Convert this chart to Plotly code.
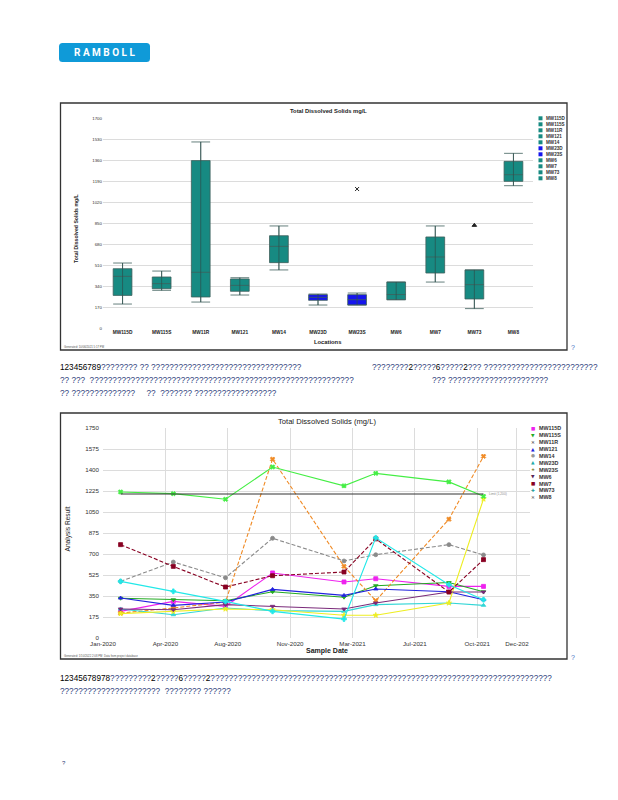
import plotly.graph_objects as go

W, H = 618, 800
def fx(x): return x / W
def fy(y): return 1 - y / H

# ---------------- Box chart data ----------------
locations = ["MW115D", "MW115S", "MW11R", "MW121", "MW14", "MW23D", "MW23S", "MW6", "MW7", "MW73", "MW8"]
box_lower  = [194, 305, 210, 267, 470, 186, 186, 229, 372, 157, 1152]
box_q1     = [264, 318, 251, 297, 529, 224, 186, 229, 445, 235, 1187]
box_median = [418, 359, 451, 345, 661, 248, 229, 271, 575, 351, 1241]
box_q3     = [480, 413, 1355, 397, 747, 270, 270, 372, 737, 470, 1349]
box_upper  = [526, 461, 1506, 407, 826, 275, 283, 372, 826, 470, 1414]
box_colors = ["#178a82", "#178a82", "#178a82", "#178a82", "#178a82", "#1515ee",
              "#1515ee", "#178a82", "#178a82", "#178a82", "#178a82"]
outlier_locs = ["MW23S", "MW73"]
outlier_vals = [1125, 831]
outlier_syms = ["x-thin-open", "triangle-up"]
box_ticks = [0, 170, 340, 510, 680, 850, 1020, 1190, 1360, 1530, 1700]

# ---------------- Line chart data ----------------
sample_dates = ["2020-02-01", "2020-05-04", "2020-08-04", "2020-10-26",
                "2021-03-01", "2021-04-26", "2021-09-02", "2021-11-02"]
mw115d = [222, 305, 264, 542, 467, 494, 430, 430]
mw115s = [331, 319, 311, 385, 340, 436, 462, 385]
mw11r  = [208, 250, 300, 1490, 597, 311, 990, 1514]
mw121  = [333, 272, 300, 405, 355, 408, 385, 319]
mw14   = [472, 633, 502, 831, 642, 694, 778, 692]
mw23d  = [242, 194, 250, 228, 222, 278, 292, 272]
mw23s  = [203, 222, 242, 236, 190, 190, 292, 1158]
mw6    = [242, 236, 278, 264, 242, 292, 383, 383]
mw7    = [778, 597, 425, 519, 550, 826, 383, 653]
mw73   = [472, 389, 305, 222, 158, 835, 444, 319]
mw8    = [1217, 1203, 1156, 1425, 1268, 1372, 1301, 1181]
limit_value = 1200
line_ticks = [0, 175, 350, 525, 700, 875, 1050, 1225, 1400, 1575, 1750]
date_tickvals = ["2020-01-01", "2020-04-20", "2020-08-08", "2020-11-26",
                 "2021-03-16", "2021-07-04", "2021-10-22", "2021-12-31"]
date_ticktext = ["Jan-2020", "Apr-2020", "Aug-2020", "Nov-2020",
                 "Mar-2021", "Jul-2021", "Oct-2021", "Dec-202"]

series = [
    ("MW115D", mw115d, "#ee22ee", "square", "solid"),
    ("MW115S", mw115s, "#22aa22", "triangle-down", "solid"),
    ("MW11R", mw11r, "#f08a24", "x", "dash"),
    ("MW121", mw121, "#2222dd", "triangle-up", "solid"),
    ("MW14", mw14, "#8a8a8a", "circle", "dash"),
    ("MW23D", mw23d, "#33d6d6", "triangle-up", "solid"),
    ("MW23S", mw23s, "#eeee22", "star", "solid"),
    ("MW6", mw6, "#7a2a7a", "triangle-down", "solid"),
    ("MW7", mw7, "#880022", "square", "dash"),
    ("MW73", mw73, "#22e8e8", "cross", "solid"),
    ("MW8", mw8, "#44ee44", "x", "solid"),
]
legend2_syms = ["\u25A0", "\u25BC", "\u2715", "\u25B2", "\u25CF", "\u25B2", "\u2605", "\u25BC", "\u25A0", "\u271A", "\u2715"]
legend2_cols = ["#ee22ee", "#22aa22", "#444444", "#2222dd", "#999999", "#22aaaa", "#8a8a3a", "#552255", "#880022", "#229999", "#555555"]

fig = go.Figure()

# ---- boxes ----
for loc, lo, a, m, b, hi, c in zip(locations, box_lower, box_q1, box_median, box_q3, box_upper, box_colors):
    fig.add_trace(go.Box(x=[loc], q1=[a], median=[m], q3=[b], lowerfence=[lo], upperfence=[hi],
                         width=0.48, whiskerwidth=1, fillcolor=c,
                         line=dict(color="#3f5f5c", width=0.8), boxpoints=False,
                         showlegend=False, xaxis="x", yaxis="y", hoverinfo="skip"))
# whisker line drawn through the box
wx, wy = [], []
for loc, lo, hi in zip(locations, box_lower, box_upper):
    wx += [loc, loc, None]
    wy += [lo, hi, None]
fig.add_trace(go.Scatter(x=wx, y=wy, mode="lines", line=dict(color="#2c4f4c", width=0.7),
                         showlegend=False, xaxis="x", yaxis="y", hoverinfo="skip"))
fig.add_trace(go.Scatter(x=outlier_locs, y=outlier_vals, mode="markers",
                         marker=dict(symbol=outlier_syms, size=4, color="#222222",
                                     line=dict(color="#222222", width=1)),
                         showlegend=False, xaxis="x", yaxis="y", hoverinfo="skip"))

# ---- lines ----
for name, vals, col, sym, dash in series:
    fig.add_trace(go.Scatter(x=sample_dates, y=vals, mode="lines+markers", name=name,
                             line=dict(color=col, width=1.1, dash="4px,2px" if dash == "dash" else "solid"),
                             marker=dict(symbol=sym, size=4, color=col, line=dict(width=0.8, color=col)),
                             showlegend=False, xaxis="x2", yaxis="y2"))
fig.add_trace(go.Scatter(x=[sample_dates[0], sample_dates[-1]], y=[limit_value, limit_value],
                         mode="lines", line=dict(color="#333333", width=1),
                         showlegend=False, xaxis="x2", yaxis="y2", hoverinfo="skip"))

shapes = []
ann = []
def text(x, y, s, size, color="#222", bold=False, anchor="left", family="Liberation Sans", angle=0, yanchor="middle"):
    ann.append(dict(x=fx(x), y=fy(y), xref="paper", yref="paper", text=("<b>%s</b>" % s) if bold else s,
                    showarrow=False, xanchor=anchor, yanchor=yanchor, textangle=angle,
                    font=dict(size=size, color=color, family=family)))

# ---- logo ----
x0, x1, y0, y1, r = 59, 150, 43, 62, 3.5
rx, ry = r / W, r / H
X0, X1, Y0, Y1 = fx(x0), fx(x1), fy(y1), fy(y0)
path = (f"M {X0+rx},{Y0} L {X1-rx},{Y0} Q {X1},{Y0} {X1},{Y0+ry} L {X1},{Y1-ry} Q {X1},{Y1} {X1-rx},{Y1} "
        f"L {X0+rx},{Y1} Q {X0},{Y1} {X0},{Y1-ry} L {X0},{Y0+ry} Q {X0},{Y0} {X0+rx},{Y0} Z")
shapes.append(dict(type="path", xref="paper", yref="paper", path=path, fillcolor="#0f9ad8", line=dict(width=0)))
text(104.5, 52.5, "R A M B O L L", 10, "#ffffff", True, "center", "Roboto")

# ---- frames ----
for (a, b) in [(103, 350), (413, 659)]:
    shapes.append(dict(type="rect", xref="paper", yref="paper", x0=fx(60.5), x1=fx(567), y0=fy(b), y1=fy(a),
                       line=dict(color="#333333", width=1.3)))

# ---- chart 1 texts ----
text(328, 110.5, "Total Dissolved Solids mg/L", 5.8, "#222", True, "center")
text(76, 228, "Total Dissolved Solids mg/L", 5.2, "#222", True, "center", angle=-90)
text(327, 342, "Locations", 5.8, "#222", True, "center")
text(62, 346.5, "Generated: 10/06/2021 5:17 PM", 2.8, "#555")
text(569, 347, "?", 7, "#4472c4")
for i, (loc, c) in enumerate(zip(locations, box_colors)):
    yy = 118.3 + i * 6.0
    shapes.append(dict(type="rect", xref="paper", yref="paper", x0=fx(538.5), x1=fx(542.5),
                       y0=fy(yy + 2), y1=fy(yy - 2), fillcolor=c, line=dict(width=0)))
    text(544, yy, loc, 4.6, "#333", True)

# ---- chart 2 texts ----
text(327, 421.5, "Total Dissolved Solids (mg/L)", 7.6, "#222", False, "center")
text(67.5, 529, "Analysis Result", 6.6, "#222", False, "center", angle=-90)
text(327, 651, "Sample Date", 7.0, "#222", True, "center")
text(62, 656, "Generated: 1/10/2022 2:08 PM  Data from project database", 2.8, "#555")
text(569, 657, "?", 7, "#4472c4")
text(487, 494, "Limit (1,200)", 3.2, "#888")
for i, (s, c, sym) in enumerate(zip(series, legend2_cols, legend2_syms)):
    yy = 428.3 + i * 6.9
    text(533, yy, sym, 4.6, c, False, "center", "DejaVu Sans")
    text(537, yy, s[0], 5.4, "#333", True)

# ---- body text ----
Q = "#2e3d7c"
def q(n): return "?" * n
def body(x, y, s):
    ann.append(dict(x=fx(x), y=fy(y), xref="paper", yref="paper", text=s, showarrow=False,
                    xanchor="left", yanchor="middle", font=dict(size=8.2, color=Q, family="Liberation Sans")))
def d(s): return "<span style='color:#000'>%s</span>" % s

body(58, 367, d("123456789") + q(8) + " ?? " + q(33))
body(370, 367, q(8) + d("2") + q(5) + d("6") + q(5) + d("2") + q(3) + " " + q(25))
body(58, 380.5, "?? ???  " + q(58))
body(430, 380.5, "??? " + q(22))
body(58, 394, "?? " + q(14) + "     ??  " + q(7) + " " + q(18))
body(58, 678, d("12345678978") + q(9) + d("2") + q(5) + d("6") + q(5) + d("2") + q(75))
body(58, 691.5, q(22) + "  " + q(8) + " " + q(6))
text(60, 763, "?", 6, Q)

fig.update_layout(
    template="none",
    width=W, height=H, margin=dict(l=0, r=0, t=0, b=0, pad=0, autoexpand=False),
    paper_bgcolor="white", plot_bgcolor="white",
    boxmode="overlay", shapes=shapes, annotations=ann, showlegend=False,
    xaxis=dict(domain=[fx(103), fx(533)], type="category", categoryorder="array", categoryarray=locations,
               range=[-0.5, 10.5], showgrid=False, showline=False, ticks="", zeroline=False, automargin=False,
               tickfont=dict(size=4.8, color="#222", family="Liberation Sans", weight="bold")),
    yaxis=dict(domain=[fy(328), fy(118)], range=[0, 1700], tickvals=box_ticks, showgrid=True,
               gridcolor="#dcdcdc", gridwidth=0.8, zeroline=False, showline=False, ticks="", automargin=False,
               tickfont=dict(size=4.4, color="#333", family="Liberation Sans")),
    xaxis2=dict(domain=[fx(103), fx(530)], type="date", range=["2020-01-01", "2022-01-23"],
                tickvals=date_tickvals, ticktext=date_ticktext, showgrid=True, gridcolor="#dcdcdc",
                gridwidth=0.8, zeroline=False, showline=False, ticks="", anchor="y2", automargin=False,
                ticklabelstandoff=1,
                tickfont=dict(size=6.2, color="#333", family="Liberation Sans")),
    yaxis2=dict(domain=[fy(638), fy(428)], range=[0, 1750], tickvals=line_ticks, showgrid=True,
                gridcolor="#dcdcdc", gridwidth=0.8, zeroline=False, showline=False, ticks="", anchor="x2",
                automargin=False, ticklabelstandoff=3,
                tickfont=dict(size=6.2, color="#333", family="Liberation Sans")),
)

fig.write_html("out.html", config={"displayModeBar": False},
               post_script="document.body.style.margin='0px';document.body.style.overflow='hidden';")
